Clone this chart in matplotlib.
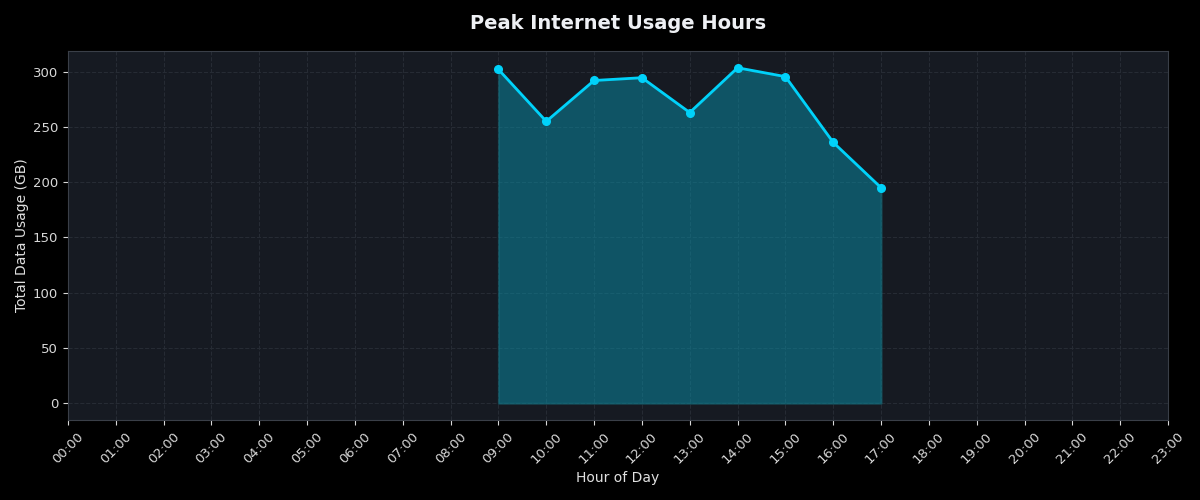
import matplotlib
matplotlib.use("Agg")
import matplotlib.pyplot as plt

hours = [9, 10, 11, 12, 13, 14, 15, 16, 17]
usage = [302, 255, 292, 294.5, 263, 303.5, 295.5, 236, 195]
tick_hours = list(range(24))
tick_labels = [f"{h:02d}:00" for h in tick_hours]

fig = plt.figure(figsize=(12, 5), dpi=100, facecolor="#000000")
ax = fig.add_axes([68/1200, 80/500, 1100/1200, 369/500])
ax.set_facecolor("#161a22")

line_color = "#00d2fa"
ax.fill_between(hours, usage, 0, color="#0a8fa8", alpha=0.5, linewidth=1.5, edgecolor="#14707f")
ax.plot(hours, usage, color=line_color, linewidth=2, marker="o", markersize=5.5)

ax.set_xlim(0, 23)
ax.set_xticks(tick_hours)
ax.set_xticklabels(tick_labels, rotation=45, color="#d8d8d8", fontsize=9.5)
ax.tick_params(axis="y", colors="#d8d8d8", labelsize=9.5)
ax.tick_params(axis="x", colors="#d8d8d8")
ax.set_yticks([0, 50, 100, 150, 200, 250, 300])

ax.grid(True, linestyle="--", color="#262b34", linewidth=0.8)
ax.set_axisbelow(True)
for s in ax.spines.values():
    s.set_color("#3a3f48")

ax.set_xlabel("Hour of Day", color="#e0e0e0", fontsize=10)
ax.set_ylabel("Total Data Usage (GB)", color="#e0e0e0", fontsize=10, labelpad=2.5)
ax.set_title("Peak Internet Usage Hours", color="#eef0f4", fontsize=14, fontweight="bold", pad=16)

fig.savefig("out.png", dpi=100, facecolor=fig.get_facecolor())
